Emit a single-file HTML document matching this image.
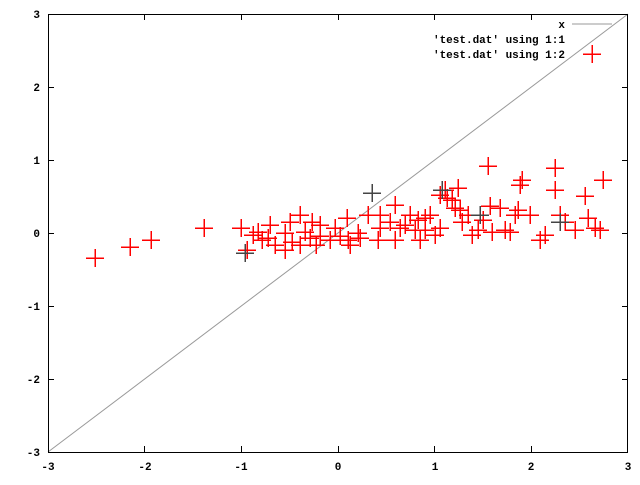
<!DOCTYPE html>
<html><head><meta charset="utf-8"><style>
body{margin:0;background:#fff}
svg text{font-family:"Liberation Mono",monospace;font-size:11px;font-weight:bold;fill:#000}
</style></head><body>
<svg width="640" height="480" xmlns="http://www.w3.org/2000/svg">
<rect width="640" height="480" fill="#fff"/>
<line x1="48" y1="452" x2="628" y2="14" stroke="#999" stroke-width="1"/>
<g stroke="#000" stroke-width="1" shape-rendering="crispEdges">
<rect x="48.5" y="14.5" width="579" height="438" fill="none"/>
<path d="M48 14.5h6M48 87.5h6M48 160.5h6M48 233.5h6M48 306.5h6M48 379.5h6M48 452.5h6
M628 14.5h-6M628 87.5h-6M628 160.5h-6M628 233.5h-6M628 306.5h-6M628 379.5h-6M628 452.5h-6
M48.5 452v-6M144.5 452v-6M241.5 452v-6M338.5 452v-6M434.5 452v-6M531.5 452v-6M627.5 452v-6
M48.5 14v6M144.5 14v6M241.5 14v6M338.5 14v6M434.5 14v6M531.5 14v6M627.5 14v6"/>
</g>
<g text-anchor="end">
<text x="40" y="18">3</text><text x="40" y="91">2</text><text x="40" y="164">1</text><text x="40" y="237">0</text>
<text x="40" y="310">-1</text><text x="40" y="383">-2</text><text x="40" y="456">-3</text>
</g>
<g text-anchor="middle">
<text x="48" y="470">-3</text><text x="145" y="470">-2</text><text x="241" y="470">-1</text><text x="338" y="470">0</text>
<text x="435" y="470">1</text><text x="531" y="470">2</text><text x="628" y="470">3</text>
</g>
<g text-anchor="end">
<text x="565" y="28">x</text>
<text x="565" y="43">'test.dat' using 1:1</text>
<text x="565" y="58">'test.dat' using 1:2</text>
</g>
<line x1="572" y1="24" x2="612" y2="24" stroke="#999"/>
<g id="pts" stroke="#f00" stroke-width="1.5" shape-rendering="crispEdges"></g>
</svg>
<script>
var p=[[592,54],[95,258],[130,247],[151,240],[204,228],[241,228],[247,250],[253,235],[262,240],[268,238],[275,245],[285,233],[292,242],[290,222],[300,245],[305,232],[312,222],[316,245],[320,236],[330,240],[340,236],[347,218],[348,240],[358,233],[368,215],[380,228],[390,222],[395,240],[405,225],[410,215],[418,220],[425,230],[430,215],[440,195],[447,198],[452,200],[458,188],[460,210],[462,222],[468,215],[472,235],[478,230],[483,220],[490,206],[500,208],[505,230],[510,232],[515,215],[520,185],[522,180],[518,210],[530,215],[545,235],[555,168],[555,190],[560,215],[565,222],[575,230],[585,196],[588,218],[595,228],[600,230],[603,180],[445,190],[455,208],[488,166],[420,240],[435,235],[285,250],[270,225],[300,215],[320,225],[378,240],[400,228],[415,230],[440,228],[350,245],[360,238],[395,205],[380,215],[258,232],[310,238],[335,228],[425,218],[492,232],[540,240]];
var g=document.getElementById('pts'),s='';
p.forEach(function(a){s+='<path d="M'+(a[0]-9)+' '+a[1]+'h18M'+a[0]+' '+(a[1]-9)+'v18"/>';});
[[245,253],[372,193],[442,190],[560,222],[480,215]].forEach(function(a){s+='<path stroke="#444" d="M'+(a[0]-9)+' '+a[1]+'h18M'+a[0]+' '+(a[1]-9)+'v18"/>';});
g.innerHTML=s;
</script>
</body></html>
